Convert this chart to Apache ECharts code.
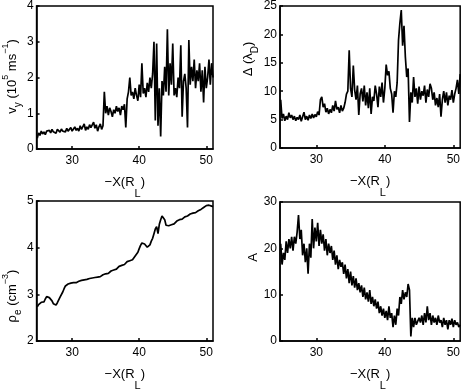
<!DOCTYPE html>
<html>
<head>
<meta charset="utf-8">
<script src="https://cdn.jsdelivr.net/npm/echarts@6/dist/echarts.min.js"></script>
<style>
html,body{margin:0;padding:0;background:#fff;}
#c{width:463px;height:392px;}
</style>
</head>
<body>
<div id="c"></div>
<script>
// shared sample positions, -X (R_L)
const X = [
  24.8,25.0,25.2,25.4,25.6,25.8,26.0,26.2,26.4,26.6,
  26.8,27.0,27.2,27.4,27.6,27.8,28.0,28.2,28.4,28.6,
  28.8,29.0,29.2,29.4,29.6,29.8,30.0,30.2,30.4,30.6,
  30.8,31.0,31.2,31.4,31.6,31.8,32.0,32.2,32.4,32.6,
  32.8,33.0,33.2,33.4,33.6,33.8,34.0,34.2,34.4,34.6,
  34.8,35.0,35.2,35.4,35.6,35.8,36.0,36.2,36.4,36.6,
  36.8,37.0,37.2,37.4,37.6,37.8,38.0,38.2,38.4,38.6,
  38.8,39.0,39.2,39.4,39.6,39.8,40.0,40.2,40.4,40.6,
  40.8,41.0,41.2,41.4,41.6,41.8,42.0,42.2,42.4,42.6,
  42.8,43.0,43.2,43.4,43.6,43.8,44.0,44.2,44.4,44.6,
  44.8,45.0,45.2,45.4,45.6,45.8,46.0,46.2,46.4,46.6,
  46.8,47.0,47.2,47.4,47.6,47.8,48.0,48.2,48.4,48.6,
  48.8,49.0,49.2,49.4,49.6,49.8,50.0,50.2,50.4,50.6,
  50.8,51.0
];

// v_y (10^5 m/s)
const vy = [
  0.3,0.45,0.38,0.5,0.42,0.48,0.4,0.5,0.45,0.52,
  0.45,0.55,0.48,0.5,0.44,0.55,0.5,0.47,0.56,0.5,
  0.52,0.48,0.58,0.5,0.55,0.6,0.5,0.56,0.62,0.52,
  0.58,0.5,0.65,0.55,0.6,0.7,0.52,0.62,0.55,0.68,
  0.6,0.55,0.75,0.58,0.68,0.5,0.62,0.7,0.55,0.65,
  1.6,1.0,1.2,0.95,1.15,1.05,0.9,1.1,1.0,1.2,
  1.05,1.15,0.95,1.2,1.1,1.25,0.6,1.4,1.6,2.0,
  1.5,1.6,1.4,1.7,1.5,1.35,1.8,1.45,2.4,1.55,
  1.7,1.45,1.85,1.6,2.0,1.7,2.1,3.0,0.8,2.95,
  0.65,1.7,0.35,1.9,1.5,2.3,1.6,3.35,1.5,2.4,
  1.8,2.95,1.5,1.7,1.45,2.0,1.7,2.9,0.9,1.9,
  2.1,1.7,0.6,3.05,1.8,2.3,1.9,2.5,1.7,2.2,
  1.9,2.4,1.6,2.2,1.3,2.3,1.7,2.0,2.5,1.8,
  2.4,2.0
];

// Delta (lambda_D)
const delta = [
  8.5,5.2,6.0,4.8,5.6,5.0,6.2,5.3,5.8,5.0,
  5.6,4.8,5.4,5.0,5.8,4.7,5.5,6.3,5.0,5.6,
  4.9,5.8,5.2,6.0,5.3,5.9,5.5,6.4,5.8,8.5,
  9.0,7.2,7.8,6.3,7.0,6.0,6.8,6.2,7.5,6.5,
  8.3,6.8,7.2,6.2,7.5,6.5,7.0,8.0,9.5,10.0,
  17.2,10.5,9.0,14.5,10.2,8.5,11.0,5.8,9.5,10.5,
  8.2,11.0,7.5,9.8,7.0,10.5,6.0,9.0,8.3,11.0,
  9.5,7.2,10.8,9.0,11.5,8.0,10.5,14.7,12.8,13.5,
  10.5,9.5,6.2,10.0,9.0,11.5,19.0,22.0,24.3,18.0,
  21.5,16.0,12.5,14.0,4.6,9.8,8.0,12.5,9.0,10.5,
  7.8,10.8,8.5,10.0,9.2,11.0,8.0,10.3,9.0,11.3,
  10.5,8.5,9.8,7.5,8.8,7.2,9.5,5.5,8.5,10.0,
  8.0,9.8,7.5,9.2,8.5,10.2,8.0,9.5,10.5,12.0,
  9.5,13.0
];

// rho_e (cm^-3)
const rho = [
  2.73,2.78,2.82,2.83,2.85,2.84,2.9,2.95,2.97,2.93,
  2.92,2.86,2.8,2.76,2.77,2.82,2.88,2.94,2.98,3.05,
  3.12,3.18,3.2,3.22,3.2,3.24,3.26,3.25,3.27,3.25,
  3.26,3.28,3.27,3.3,3.29,3.31,3.33,3.32,3.35,3.34,
  3.36,3.35,3.34,3.36,3.35,3.37,3.35,3.38,3.4,3.42,
  3.41,3.44,3.46,3.45,3.48,3.5,3.49,3.52,3.55,3.54,
  3.57,3.6,3.58,3.62,3.65,3.64,3.67,3.7,3.69,3.72,
  3.75,3.74,3.78,3.82,3.86,3.9,3.98,4.05,4.1,4.12,
  4.08,4.04,4.01,3.99,4.06,4.14,4.2,4.3,4.4,4.45,
  4.3,4.5,4.6,4.68,4.66,4.6,4.48,4.45,4.47,4.5,
  4.49,4.52,4.51,4.55,4.57,4.58,4.6,4.62,4.61,4.64,
  4.66,4.65,4.68,4.7,4.72,4.71,4.74,4.76,4.75,4.78,
  4.79,4.8,4.82,4.84,4.86,4.88,4.9,4.89,4.91,4.9,
  4.89,4.88
];

// A
const anis = [
  21,16.5,19,17.5,21.5,19,22,20,22.5,19.5,
  22.5,21,23.5,27.2,22,24,18.5,21,17,20,
  14.5,21,18,26.3,20,24.5,21.5,25.5,20.5,24,
  21,23,19.5,22,18.5,21,19,20.5,17.5,19.5,
  16.5,18.5,15.5,17.5,16,17,14.5,16.5,13.5,15.5,
  12.5,15,12,14,11.5,13.5,11,12.5,10.5,12,
  9.5,11.5,9,10.5,8.5,11,8,9.5,7.5,9,
  7,8.5,6,7.5,5.5,7,5,6.5,4.5,7.5,
  5,6,3,5.5,3.5,7,5.5,9.5,8,11,
  9,10.5,9.5,12.3,11,1,5,3,5,3.5,
  3.5,5,4,5.5,3.5,6,4,7.5,4.5,6,
  3.5,5.5,4,5,3.5,5.5,4,4.5,3,5,
  3.5,4.5,2.5,4.5,3.5,4.8,3,4.5,3.5,4,
  3,3.5
];

const xTicks = [30, 40, 50];

const FONT = 'Liberation Sans, Arial, sans-serif';
const rich = {
  n: {fontSize: 13, fontFamily: FONT, color: '#000', lineHeight: 22},
  s: {fontSize: 10, fontFamily: FONT, color: '#000', lineHeight: 6, verticalAlign: 'bottom'},
  p: {fontSize: 9, fontFamily: FONT, color: '#000', lineHeight: 6, verticalAlign: 'top'}
};
const xrich = {
  n: {fontSize: 13, fontFamily: FONT, color: '#000', lineHeight: 34},
  s: {fontSize: 11, fontFamily: FONT, color: '#000', lineHeight: 4, verticalAlign: 'bottom'}
};

function pair(ys) { return X.map((x, i) => [x, ys[i]]); }

const grids = [
  {left: 33, top: 5, width: 180, height: 144},
  {left: 280, top: 5, width: 181, height: 143},
  {left: 33, top: 201, width: 180, height: 143},
  {left: 280, top: 202, width: 181, height: 142}
].map(g => Object.assign(g, {show: true, borderColor: '#000', borderWidth: 1.5, backgroundColor: 'transparent'}));

function xAxis(i) {
  return {
    type: 'value', gridIndex: i, min: 24.7, max: 51,
    name: '{n|\u2212X(R}{s|L}{n|)}',
    nameLocation: 'middle', nameGap: 16,
    nameTextStyle: {rich: xrich},
    axisLine: {show: true, lineStyle: {color: '#000', width: 1.5}},
    axisTick: {show: true, inside: true, length: 3, customValues: xTicks, lineStyle: {color: '#000', width: 1.5}},
    axisLabel: {show: true, customValues: xTicks, color: '#000', fontSize: 12, fontFamily: FONT, margin: 6},
    splitLine: {show: false}
  };
}
function yAxis(i, min, max, interval, name, gap, pad) {
  return {
    type: 'value', gridIndex: i, min: min, max: max, interval: interval,
    name: name, nameLocation: 'middle', nameGap: gap, nameRotate: 90,
    nameTextStyle: {rich: rich, padding: pad},
    axisLine: {show: true, lineStyle: {color: '#000', width: 1.5}},
    axisTick: {show: true, inside: true, length: 3, lineStyle: {color: '#000', width: 1.5}},
    axisLabel: {show: true, color: '#000', fontSize: 12, fontFamily: FONT, margin: 3},
    splitLine: {show: false}
  };
}

const lineStyle = {color: '#000', width: 1.7};
function series(i, ys) {
  return {type: 'line', xAxisIndex: i, yAxisIndex: i, data: pair(ys), showSymbol: false,
          symbol: 'none', lineStyle: lineStyle, animation: false};
}

const chart = echarts.init(document.getElementById('c'), null, {renderer: 'canvas'});
chart.setOption({
  backgroundColor: '#fff',
  animation: false,
  grid: grids,
  xAxis: [xAxis(0), xAxis(1), xAxis(2), xAxis(3)],
  yAxis: [
    yAxis(0, 0, 4, 1, '{n|v}{s|y}{n| (10}{p|5}{n| ms}{p|\u22121}{n|)}', 9, [0, 0, 0, 2]),
    yAxis(1, 0, 25, 5, '{n|\u0394 (\u03bb}{s|D}{n|)}', 13, [0, 0, 0, 36]),
    yAxis(2, 2, 5, 1, '{n|\u03c1}{s|e}{n| (cm}{p|\u22123}{n|)}', 9, [0, 50, 0, 0]),
    yAxis(3, 0, 30, 10, '{n|A}', 13, [0, 0, 0, 28])
  ],
  series: [series(0, vy), series(1, delta), series(2, rho), series(3, anis)]
});
</script>
</body>
</html>
